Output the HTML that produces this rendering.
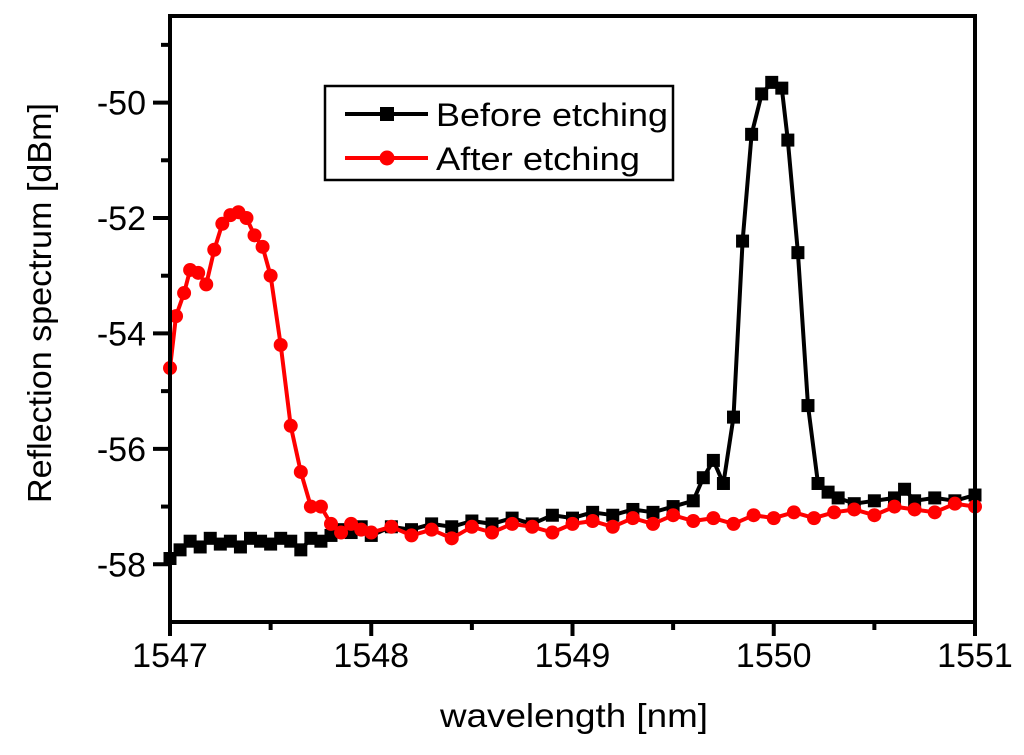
<!DOCTYPE html>
<html><head><meta charset="utf-8"><style>
html,body{margin:0;padding:0;background:#fff}
svg{display:block}
text{font-family:"Liberation Sans",sans-serif;fill:#000}
</style></head><body>
<svg id="chart" width="1024" height="755"></svg>
<script>
const xTicks=[1547,1548,1549,1550,1551];
const yTicks=[-50,-52,-54,-56,-58];
const blackX=[1547,1547.05,1547.1,1547.15,1547.2,1547.25,1547.3,1547.35,1547.4,1547.45,1547.5,1547.55,1547.6,1547.65,1547.7,1547.75,1547.8,1547.85,1547.9,1547.95,1548,1548.1,1548.2,1548.3,1548.4,1548.5,1548.6,1548.7,1548.8,1548.9,1549,1549.1,1549.2,1549.3,1549.4,1549.5,1549.6,1549.65,1549.7,1549.75,1549.8,1549.845,1549.89,1549.94,1549.99,1550.04,1550.07,1550.12,1550.17,1550.22,1550.27,1550.32,1550.4,1550.5,1550.6,1550.65,1550.7,1550.8,1550.9,1551];
const blackY=[-57.9,-57.75,-57.6,-57.7,-57.55,-57.65,-57.6,-57.7,-57.55,-57.6,-57.65,-57.55,-57.6,-57.75,-57.55,-57.6,-57.5,-57.4,-57.45,-57.35,-57.5,-57.35,-57.4,-57.3,-57.35,-57.25,-57.3,-57.2,-57.3,-57.15,-57.2,-57.1,-57.15,-57.05,-57.1,-57.0,-56.9,-56.5,-56.2,-56.6,-55.45,-52.4,-50.55,-49.85,-49.65,-49.75,-50.65,-52.6,-55.25,-56.6,-56.75,-56.85,-56.95,-56.9,-56.85,-56.7,-56.9,-56.85,-56.9,-56.8];
const redX=[1547,1547.03,1547.07,1547.1,1547.14,1547.18,1547.22,1547.26,1547.3,1547.34,1547.38,1547.42,1547.46,1547.5,1547.55,1547.6,1547.65,1547.7,1547.75,1547.8,1547.85,1547.9,1547.95,1548,1548.1,1548.2,1548.3,1548.4,1548.5,1548.6,1548.7,1548.8,1548.9,1549,1549.1,1549.2,1549.3,1549.4,1549.5,1549.6,1549.7,1549.8,1549.9,1550,1550.1,1550.2,1550.3,1550.4,1550.5,1550.6,1550.7,1550.8,1550.9,1551];
const redY=[-54.6,-53.7,-53.3,-52.9,-52.95,-53.15,-52.55,-52.1,-51.95,-51.9,-52.0,-52.3,-52.5,-53.0,-54.2,-55.6,-56.4,-57.0,-57.0,-57.3,-57.45,-57.3,-57.4,-57.45,-57.35,-57.5,-57.4,-57.55,-57.35,-57.45,-57.3,-57.35,-57.45,-57.3,-57.25,-57.35,-57.2,-57.3,-57.15,-57.25,-57.2,-57.3,-57.15,-57.2,-57.1,-57.2,-57.1,-57.05,-57.15,-57.0,-57.05,-57.1,-56.95,-57.0];
const L=170,R=975,T=16,B=622,x0=1547,x1=1551,y0=-59,y1=-48.5;
const sx=v=>L+(v-x0)/(x1-x0)*(R-L);
const sy=v=>B-(v-y0)/(y1-y0)*(B-T);
const svg=document.getElementById('chart');
const NS='http://www.w3.org/2000/svg';
function mk(tag,attrs,parent){const e=document.createElementNS(NS,tag);for(const k in attrs)e.setAttribute(k,attrs[k]);(parent||svg).appendChild(e);return e;}
function series(xs,ys,color,marker,name){
  const g=mk('g',{});
  
  
  const pts=xs.map((x,i)=>sx(x).toFixed(1)+','+sy(ys[i]).toFixed(1)).join(' ');
  const pl=mk('polyline',{points:pts,fill:'none',stroke:color,'stroke-width':4,'stroke-linejoin':'round'},g);
  
  
  xs.forEach((x,i)=>{
    let m;
    if(marker==='square')m=mk('rect',{x:sx(x)-6.5,y:sy(ys[i])-6.5,width:13,height:13,fill:color},g);
    else m=mk('circle',{cx:sx(x),cy:sy(ys[i]),r:7,fill:color},g);
    
    
  });
}
series(blackX,blackY,'#000','square','before-etching-series');
series(redX,redY,'#f00','circle','after-etching-series');
const fr=mk('rect',{x:L,y:T,width:R-L,height:B-T,fill:'none',stroke:'#000','stroke-width':4});


xTicks.forEach(v=>{
  mk('line',{x1:sx(v),x2:sx(v),y1:B,y2:B+14,stroke:'#000','stroke-width':4});
  const t=mk('text',{x:sx(v),y:B+45,'font-size':34,'text-anchor':'middle'});t.textContent=v;
  
  
});
[1547.5,1548.5,1549.5,1550.5].forEach(v=>mk('line',{x1:sx(v),x2:sx(v),y1:B,y2:B+8,stroke:'#000','stroke-width':4}));
yTicks.forEach(v=>{
  mk('line',{x1:L-17,x2:L,y1:sy(v),y2:sy(v),stroke:'#000','stroke-width':4});
  const t=mk('text',{x:L-24,y:sy(v)+12,'font-size':34,'text-anchor':'end'});t.textContent=v;
  
  
});
[-49,-51,-53,-55,-57].forEach(v=>mk('line',{x1:L-9,x2:L,y1:sy(v),y2:sy(v),stroke:'#000','stroke-width':4}));
const xl=mk('text',{x:440,y:727,'font-size':33,textLength:268,lengthAdjust:'spacingAndGlyphs'});xl.textContent='wavelength [nm]';


const yl=mk('text',{x:-200,y:0,'font-size':33,textLength:400,lengthAdjust:'spacingAndGlyphs',transform:'translate(51,303) rotate(-90)'});yl.textContent='Reflection spectrum [dBm]';


const lg=mk('g',{});


mk('rect',{x:325,y:86,width:348,height:94,fill:'#fff',stroke:'#000','stroke-width':2.5},lg);
mk('line',{x1:345,x2:428,y1:114,y2:114,stroke:'#000','stroke-width':4},lg);
mk('rect',{x:380,y:107,width:14,height:14,fill:'#000'},lg);
mk('line',{x1:345,x2:428,y1:158,y2:158,stroke:'#f00','stroke-width':4},lg);
mk('circle',{cx:387,cy:158,r:7.5,fill:'#f00'},lg);
const t1=mk('text',{x:436,y:126,'font-size':32,textLength:232,lengthAdjust:'spacingAndGlyphs'},lg);t1.textContent='Before etching';


const t2=mk('text',{x:436,y:170,'font-size':32,textLength:204,lengthAdjust:'spacingAndGlyphs'},lg);t2.textContent='After etching';


</script>
</body></html>
